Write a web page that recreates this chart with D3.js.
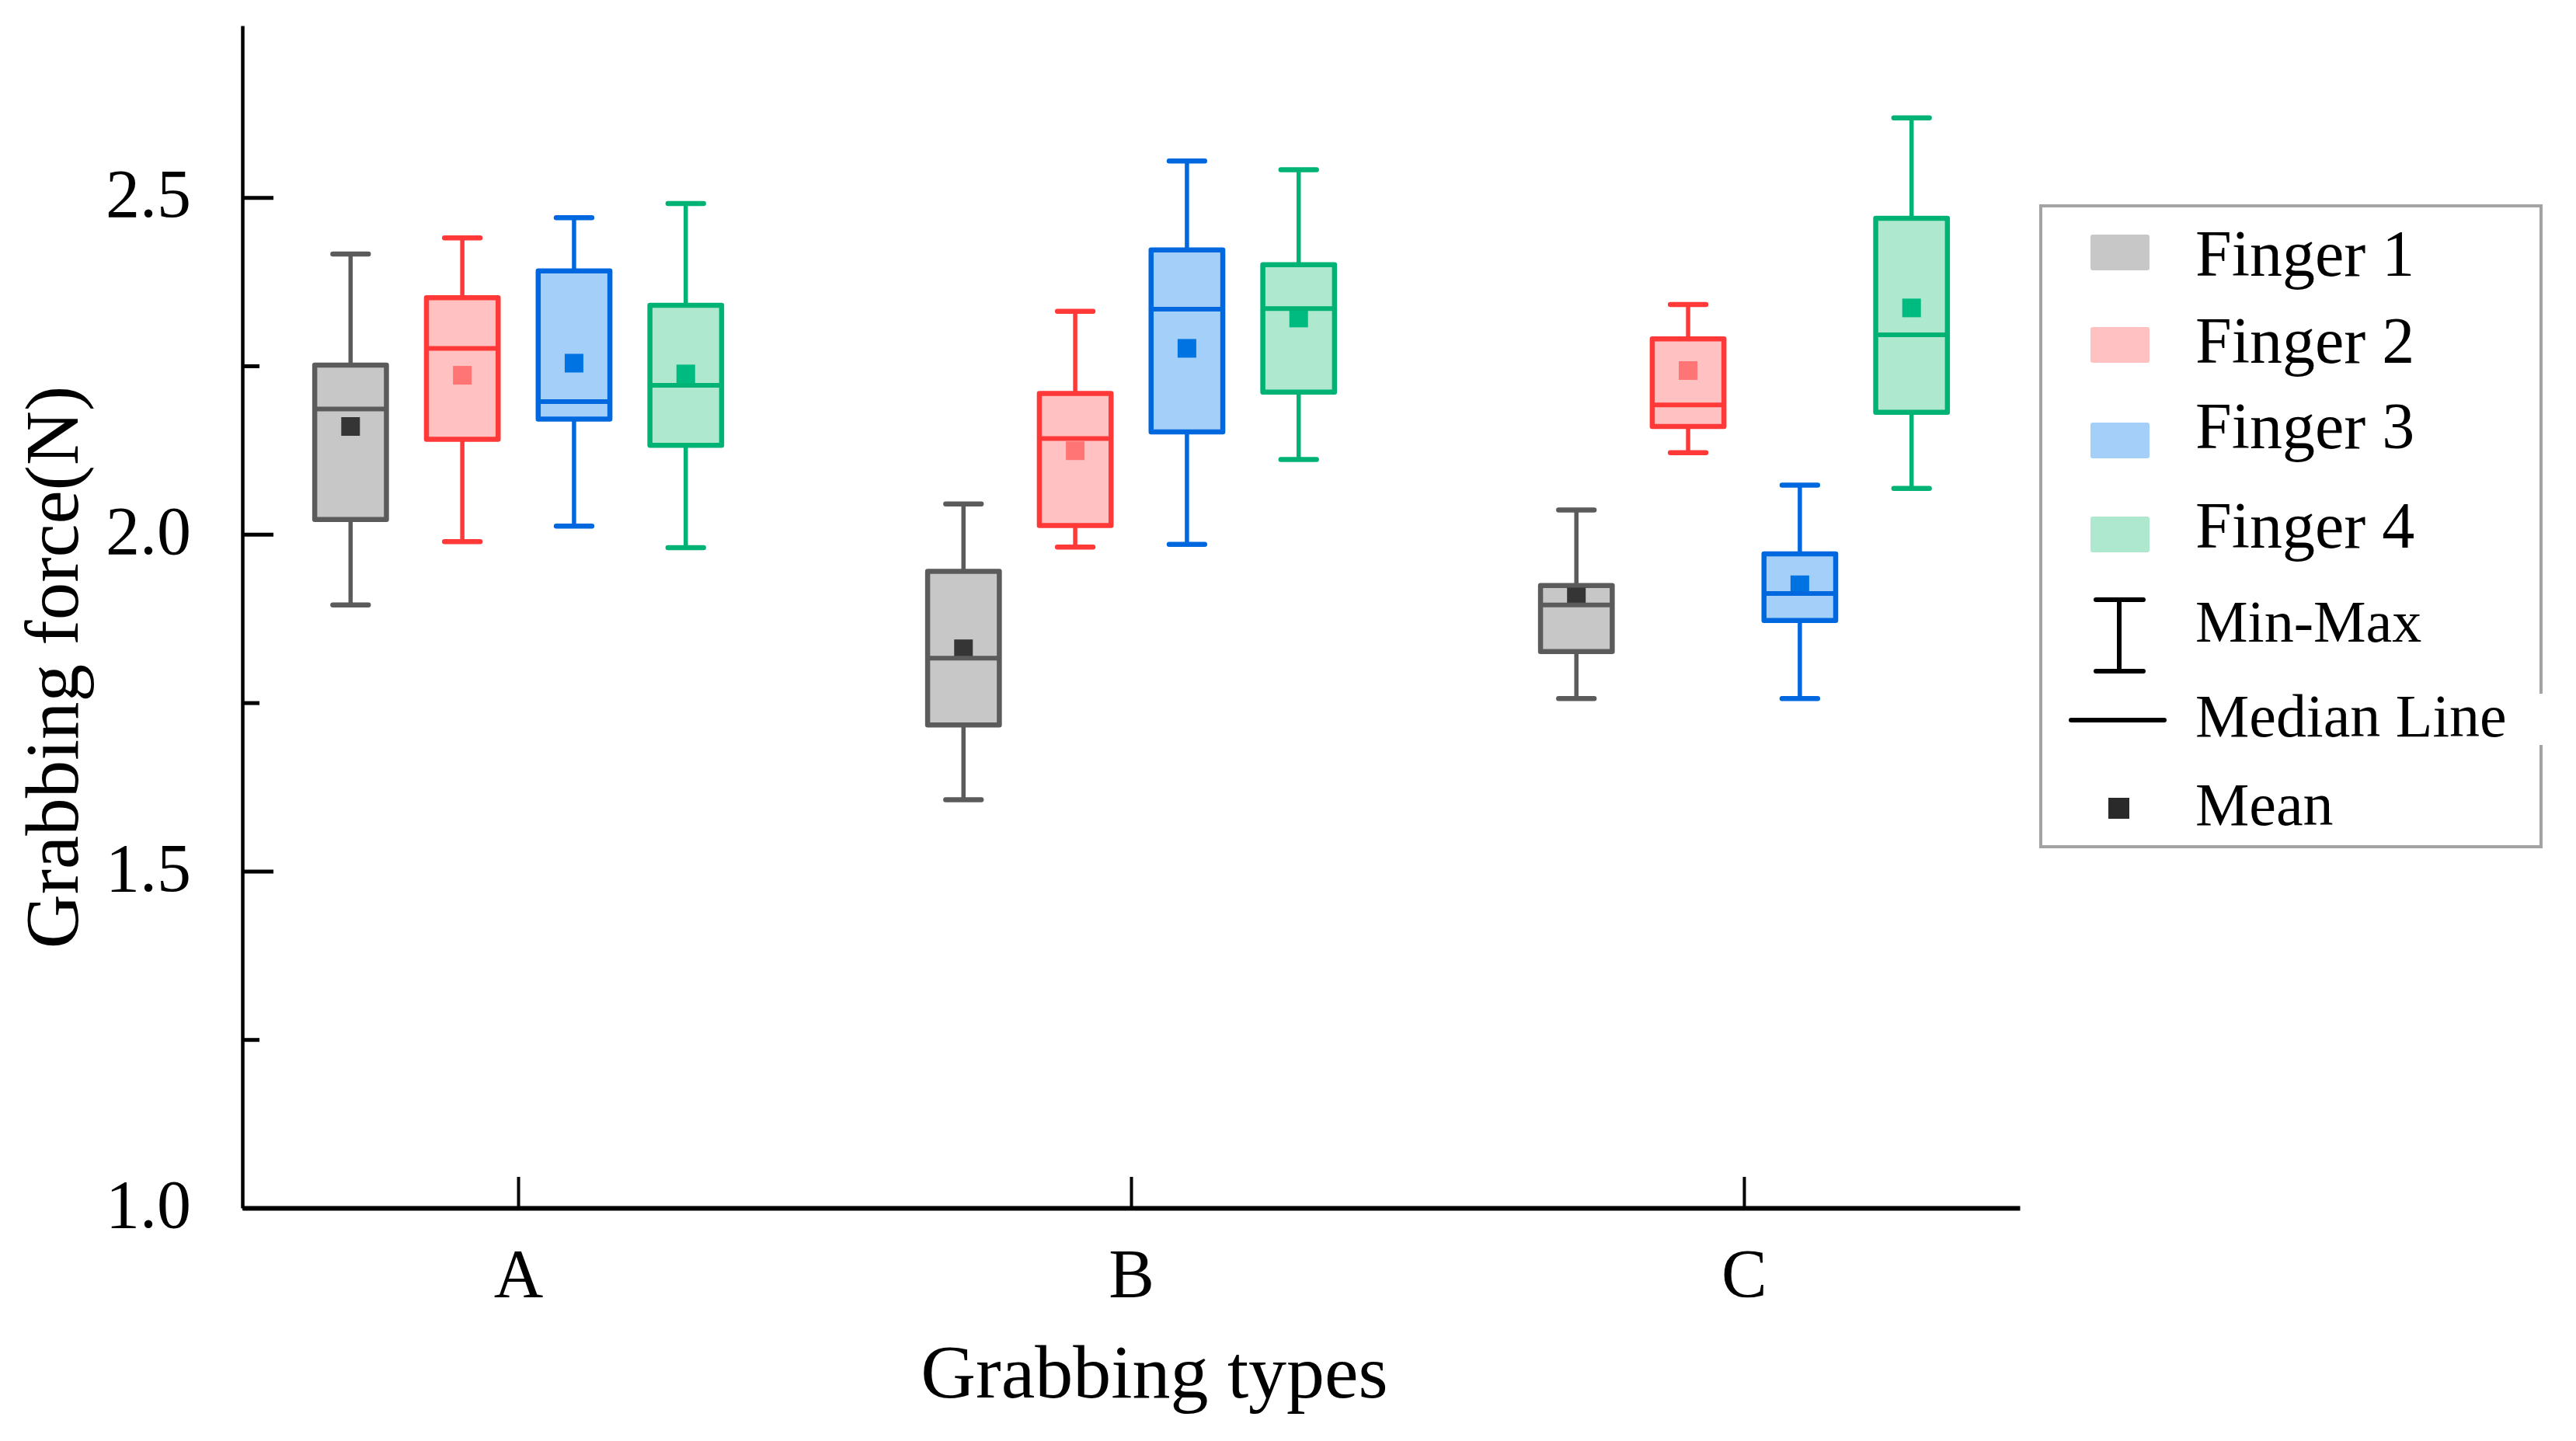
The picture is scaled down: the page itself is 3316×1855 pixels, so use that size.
<!DOCTYPE html>
<html>
<head>
<meta charset="utf-8">
<script src="https://cdn.jsdelivr.net/npm/d3@7"></script>
<style>
  body { margin: 0; background: #fff; }
  text { font-family: 'Liberation Serif', 'Times New Roman', serif; fill: #000; }
</style>
</head>
<body>
<svg id="chart" width="3316" height="1855"></svg>
<script>
var types = ['A', 'B', 'C']
var fingers = ['Finger 1', 'Finger 2', 'Finger 3', 'Finger 4']
// values per finger, one entry per grabbing type (A, B, C)
var minVals = [
  [1.895, 1.606, 1.756],
  [1.989, 1.981, 2.121],
  [2.012, 1.985, 1.756],
  [1.980, 2.111, 2.068]
]
var q1Vals = [
  [2.022, 1.717, 1.826],
  [2.141, 2.013, 2.160],
  [2.171, 2.152, 1.872],
  [2.132, 2.211, 2.181]
]
var medianVals = [
  [2.186, 1.816, 1.895],
  [2.276, 2.142, 2.192],
  [2.197, 2.334, 1.912],
  [2.221, 2.335, 2.296]
]
var q3Vals = [
  [2.251, 1.945, 1.924],
  [2.351, 2.209, 2.290],
  [2.391, 2.422, 1.971],
  [2.340, 2.400, 2.469]
]
var maxVals = [
  [2.416, 2.045, 2.036],
  [2.440, 2.331, 2.341],
  [2.470, 2.554, 2.073],
  [2.491, 2.541, 2.618]
]
var meanVals = [
  [2.160, 1.830, 1.907],
  [2.236, 2.124, 2.243],
  [2.254, 2.276, 1.925],
  [2.238, 2.321, 2.336]
]
var yMajorTicks = [1.0, 1.5, 2.0, 2.5]
var yMinorTicks = [1.25, 1.75, 2.25]

var strokeColors = ['#5b5b5b', '#ff3838', '#0068df', '#00b274']
var fillColors = ['#c7c7c7', '#ffc1c1', '#a3cff8', '#ade8cf']
var meanColors = ['#353535', '#ff7474', '#0073e3', '#00bb80']

var margin = { left: 312, right: 716, top: 33, bottom: 300 }
var width = 3316
var height = 1855
var svg = d3.select('#chart')

var x = d3.scaleLinear().domain([0.55, 3.45]).range([margin.left, width - margin.right])
var y = d3.scaleLinear().domain([1.0, 2.755]).range([height - margin.bottom, margin.top])

var groupStep = 0.1823
var boxW = 0.117
var capW = 0.058

// axes
var yAxisMinor = d3.axisLeft(y).tickValues(yMinorTicks).tickSizeInner(-22).tickSizeOuter(0).tickFormat('')
svg.append('g')
  .attr('transform', 'translate(' + margin.left + ',0)')
  .call(yAxisMinor)
  .call(function (g) { g.select('.domain').remove() })
  .selectAll('line').attr('stroke', '#000').attr('stroke-width', 5)

var yAxis = d3.axisLeft(y).tickValues(yMajorTicks).tickSizeInner(-40).tickSizeOuter(0).tickPadding(66)
  .tickFormat(d3.format('.1f'))
svg.append('g')
  .attr('class', 'y-axis')
  .attr('transform', 'translate(' + margin.left + ',0)')
  .call(yAxis)
  .call(function (g) {
    g.select('.domain').attr('stroke', '#000').attr('stroke-width', 4.5)
    g.selectAll('line').attr('stroke', '#000').attr('stroke-width', 5)
    g.selectAll('text').attr('font-size', 88).attr('font-family', 'Liberation Serif').attr('dy', '0.28em')
  })

var xAxis = d3.axisBottom(x).tickValues([1, 2, 3]).tickSizeInner(-40).tickSizeOuter(0).tickPadding(52)
  .tickFormat(function (d) { return types[d - 1] })
svg.append('g')
  .attr('class', 'x-axis')
  .attr('transform', 'translate(0,' + y(1.0) + ')')
  .call(xAxis)
  .call(function (g) {
    g.select('.domain').attr('stroke', '#000').attr('stroke-width', 6)
    g.selectAll('line').attr('stroke', '#000').attr('stroke-width', 4)
    g.selectAll('text').attr('font-size', 88).attr('font-family', 'Liberation Serif')
  })

// axis titles
svg.append('text')
  .attr('x', 1486)
  .attr('y', 1799)
  .attr('text-anchor', 'middle')
  .attr('font-size', 98)
  .text('Grabbing types')

svg.append('text')
  .attr('transform', 'translate(100,' + 859 + ') rotate(-90)')
  .attr('text-anchor', 'middle')
  .attr('font-size', 97)
  .text('Grabbing force(N)')

// boxes
var boxes = []
for (var fI = 0; fI < fingers.length; fI++) {
  for (var tI = 0; tI < types.length; tI++) {
    boxes.push({
      finger: fI,
      pos: tI + 1 + (fI - 1.5) * groupStep,
      min: minVals[fI][tI],
      q1: q1Vals[fI][tI],
      median: medianVals[fI][tI],
      q3: q3Vals[fI][tI],
      max: maxVals[fI][tI],
      mean: meanVals[fI][tI]
    })
  }
}

var boxG = svg.append('g').selectAll('.box-g')
  .data(boxes)
  .enter()
  .append('g')
  .attr('class', 'box-g')

// whiskers
boxG.append('line')
  .attr('x1', function (d) { return x(d.pos) })
  .attr('x2', function (d) { return x(d.pos) })
  .attr('y1', function (d) { return y(d.max) })
  .attr('y2', function (d) { return y(d.q3) })
  .attr('stroke', function (d) { return strokeColors[d.finger] })
  .attr('stroke-width', 5.5)
boxG.append('line')
  .attr('x1', function (d) { return x(d.pos) })
  .attr('x2', function (d) { return x(d.pos) })
  .attr('y1', function (d) { return y(d.q1) })
  .attr('y2', function (d) { return y(d.min) })
  .attr('stroke', function (d) { return strokeColors[d.finger] })
  .attr('stroke-width', 5.5)
// caps
;['min', 'max'].forEach(function (key) {
  boxG.append('line')
    .attr('x1', function (d) { return x(d.pos - capW / 2) })
    .attr('x2', function (d) { return x(d.pos + capW / 2) })
    .attr('y1', function (d) { return y(d[key]) })
    .attr('y2', function (d) { return y(d[key]) })
    .attr('stroke', function (d) { return strokeColors[d.finger] })
    .attr('stroke-width', 6.5)
    .attr('stroke-linecap', 'round')
})
// box
boxG.append('rect')
  .attr('x', function (d) { return x(d.pos - boxW / 2) })
  .attr('width', function (d) { return x(d.pos + boxW / 2) - x(d.pos - boxW / 2) })
  .attr('y', function (d) { return y(d.q3) })
  .attr('height', function (d) { return y(d.q1) - y(d.q3) })
  .attr('fill', function (d) { return fillColors[d.finger] })
  .attr('stroke', function (d) { return strokeColors[d.finger] })
  .attr('stroke-width', 6.5)
  .attr('stroke-linejoin', 'round')
// mean
var meanSize = 24
boxG.append('rect')
  .attr('x', function (d) { return x(d.pos) - meanSize / 2 })
  .attr('y', function (d) { return y(d.mean) - meanSize / 2 })
  .attr('width', meanSize)
  .attr('height', meanSize)
  .attr('fill', function (d) { return meanColors[d.finger] })
// median
boxG.append('line')
  .attr('x1', function (d) { return x(d.pos - boxW / 2) })
  .attr('x2', function (d) { return x(d.pos + boxW / 2) })
  .attr('y1', function (d) { return y(d.median) })
  .attr('y2', function (d) { return y(d.median) })
  .attr('stroke', function (d) { return strokeColors[d.finger] })
  .attr('stroke-width', 6)

// legend
var legend = svg.append('g').attr('class', 'legend')
legend.append('rect')
  .attr('x', 2627).attr('y', 265)
  .attr('width', 644).attr('height', 825)
  .attr('fill', '#fff')
  .attr('stroke', '#a3a3a3')
  .attr('stroke-width', 4)

var swatchY = [302, 421, 544, 665]
var labelY = [355, 467, 577, 705]
fingers.forEach(function (name, i) {
  legend.append('rect')
    .attr('x', 2691).attr('y', swatchY[i])
    .attr('width', 76).attr('height', 46)
    .attr('rx', 3)
    .attr('fill', fillColors[i])
  legend.append('text')
    .attr('x', 2826).attr('y', labelY[i])
    .attr('font-size', 84)
    .text(name)
})

// min-max glyph
legend.append('line').attr('x1', 2728).attr('x2', 2728).attr('y1', 772).attr('y2', 864)
  .attr('stroke', '#000').attr('stroke-width', 6)
;[772, 864].forEach(function (yy) {
  legend.append('line').attr('x1', 2698).attr('x2', 2759).attr('y1', yy).attr('y2', yy)
    .attr('stroke', '#000').attr('stroke-width', 6).attr('stroke-linecap', 'round')
})
legend.append('text').attr('x', 2826).attr('y', 826).attr('font-size', 76).text('Min-Max')

// median glyph (the label box hides the frame edge, as in the original)
legend.append('rect').attr('x', 2820).attr('y', 893).attr('width', 458).attr('height', 66).attr('fill', '#fff')
legend.append('line').attr('x1', 2666).attr('x2', 2786).attr('y1', 927).attr('y2', 927)
  .attr('stroke', '#000').attr('stroke-width', 6).attr('stroke-linecap', 'round')
legend.append('text').attr('x', 2826).attr('y', 948).attr('font-size', 78).text('Median Line')

// mean glyph
legend.append('rect').attr('x', 2714).attr('y', 1027).attr('width', 27).attr('height', 27).attr('fill', '#2a2a2a')
legend.append('text').attr('x', 2826).attr('y', 1062).attr('font-size', 78).text('Mean')
</script>
</body>
</html>
